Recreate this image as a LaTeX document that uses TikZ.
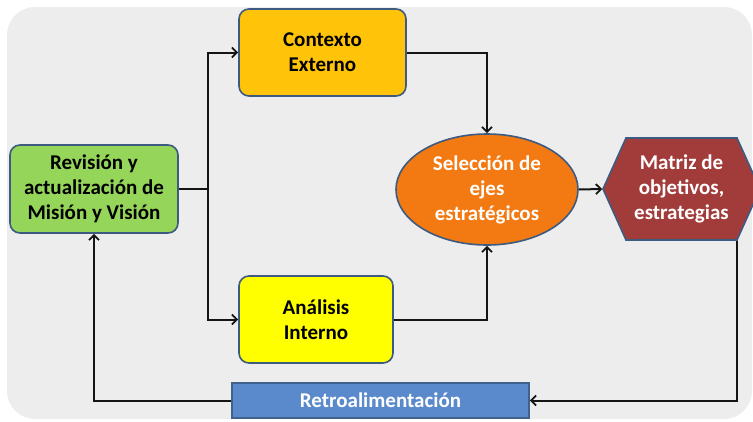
\documentclass[tikz,border=0pt]{standalone}
\usepackage{fontspec}
\setmainfont{Carlito}
\usepackage{tikz}
\usetikzlibrary{calc,shapes.geometric,arrows.meta}
\definecolor{fondo}{HTML}{EDEDED}
\definecolor{verde}{HTML}{95D55A}
\definecolor{ambar}{HTML}{FFC40A}
\definecolor{amarillo}{HTML}{FFFF00}
\definecolor{naranja}{HTML}{F37A12}
\definecolor{granate}{HTML}{A23C3A}
\definecolor{azul}{HTML}{5A8ACB}
\definecolor{borde}{HTML}{3D5A80}
\definecolor{linea}{HTML}{151515}
\tikzset{
  caja/.style={draw=borde, line width=1.6pt, rounded corners=10pt, align=center,
    inner sep=0pt, font=\bfseries\fontsize{21}{25}\selectfont},
  blanco/.style={text=white},
  conector/.style={draw=linea, line width=2pt},
  flecha/.style={conector, -{Straight Barb[length=5pt,width=10pt,line width=1.8pt]}},
}

\begin{document}
\begin{tikzpicture}[x=1pt,y=-1pt]
  \useasboundingbox (0,0) rectangle (753,421);
  \fill[fondo, rounded corners=28pt] (7,7) rectangle (752,419);

  \node[caja, fill=verde, minimum width=168, minimum height=88] (mision) at (94,189)
    {Revisión y\\actualización de\\Misión y Visión};
  \node[caja, fill=ambar, minimum width=167, minimum height=87] (contexto) at (322.5,52.5)
    {Contexto\\Externo};
  \node[caja, fill=amarillo, minimum width=154, minimum height=87] (analisis) at (316,319.5)
    {Análisis\\Interno};
  \node[caja, blanco, ellipse, fill=naranja, minimum width=182, minimum height=111] (sel) at (487,189.5)
    {Selección de\\ejes\\estratégicos};

  % hexagono de la matriz
  \coordinate (m) at (681.5,189);
  \draw[draw=borde, line width=1.6pt, fill=granate] ($(m)+(-78.5,0)$) -- ++(23,-51) -- ++(111,0)
    -- ++(23,51) -- ++(-23,51) -- ++(-111,0) -- cycle;
  \node[caja, blanco, draw=none, minimum width=157, minimum height=102] (matriz) at (m)
    {Matriz de\\objetivos,\\estrategias};

  \node[caja, blanco, rounded corners=0pt, draw=azul!70!black, fill=azul, minimum width=297,
    minimum height=35] (retro) at (380.5,400.5) {Retroalimentación};

  \coordinate (split) at (208,189);
  \draw[conector, line width=2.8pt] (mision.east) -- (split);
  \draw[flecha] (split) |- (contexto.west);
  \draw[flecha] (split) |- (analisis.west);
  \draw[flecha] (contexto.east) -| (sel.north);
  \draw[flecha] (analisis.east) -| (sel.south);
  \draw[flecha] (sel.east) -- (matriz.west);
  \draw[flecha] ($(matriz.south east)+(-24,0)$) |- (retro.east);
  \draw[flecha] (retro.west) -| (mision.south);
\end{tikzpicture}
\end{document}
